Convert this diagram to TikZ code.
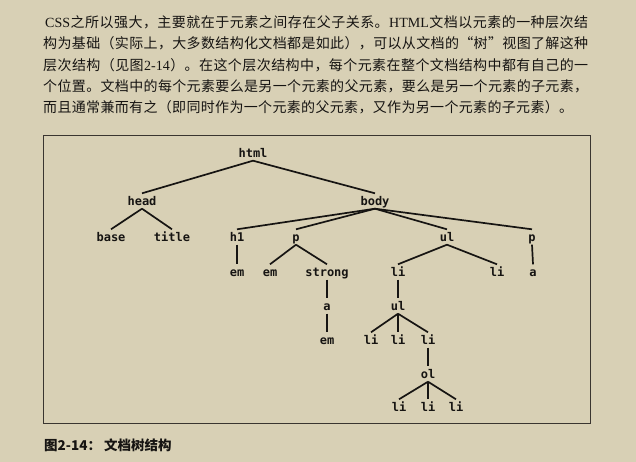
\documentclass[tikz,border=0pt]{standalone}
\usepackage{fontspec}
\setmainfont{Noto Sans CJK SC}
\newfontfamily\cjk{Noto Sans CJK SC}
\newfontfamily\lat{Liberation Serif}
\newfontfamily\tmono{DejaVu Sans Mono}
\definecolor{bg}{RGB}{216,208,181}
\definecolor{ink}{RGB}{22,20,18}
\definecolor{frame}{RGB}{58,53,48}
\def\sprend{\sprend}
\newcommand\spr[1]{#1\sprx}
\newcommand\sprx[1]{\ifx\sprend#1\else\hfil{#1}\expandafter\sprx\fi}
\tikzset{
  tn/.style={font=\tmono\bfseries\fontsize{12}{14}\selectfont, text=ink,
    text height=9pt, text depth=0pt, inner xsep=0pt, inner ysep=3pt},
  edge/.style={line width=1.7pt, draw=ink},
  paraline/.style={anchor=base west, inner sep=0pt, text=ink,
    font=\cjk\fontsize{14}{16}\selectfont},
  capt/.style={anchor=base west, inner sep=0pt, text=ink,
    font=\cjk\bfseries\fontsize{13.5}{16}\selectfont}
}
\begin{document}
\begin{tikzpicture}[x=1pt,y=-1pt]
\useasboundingbox (0,0) rectangle (636,462);
\fill[bg] (0,0) rectangle (636,462);
% paragraph
\node[paraline] (l1) at (45,27.6) {\makebox[543pt][s]{\spr{{\lat CSS}}之所以强大，主要就在于元素之间存在父子关系。{\lat HTML}文档以元素的一种层次结\sprend}};
\node[paraline] (l2) at (43,48.9) {\makebox[545pt][s]{\spr 构为基础（实际上，大多数结构化文档都是如此），可以从文档的“树”视图了解这种\sprend}};
\node[paraline] (l3) at (43,70.2) {\makebox[545pt][s]{\spr 层次结构（见图{\lat 2-14}）。在这个层次结构中，每个元素在整个文档结构中都有自己的一\sprend}};
\node[paraline] (l4) at (43,91.5) {\makebox[545pt][s]{\spr 个位置。文档中的每个元素要么是另一个元素的父元素，要么是另一个元素的子元素，\sprend}};
\node[paraline] (l5) at (43,112.8) {\makebox[530pt][s]{\spr 而且通常兼而有之（即同时作为一个元素的父元素，又作为另一个元素的子元素）。\sprend}};
% frame
\draw[frame, line width=1pt] (43,136) rectangle (590,423);
% caption
\node[capt] (cap) at (44,450) {图2-14：\hspace{3pt}文档树结构};
% tree nodes
\node[tn] (html) at (253,153) {html};
\node[tn] (head) at (142,201) {head};
\node[tn] (base) at (111,237) {base};
\node[tn] (title) at (172,237) {title};
\node[tn] (body) at (375,201) {body};
\node[tn] (h1) at (237,237) {h1};
\node[tn] (h1em) at (237,272) {em};
\node[tn] (p1) at (296,237) {p};
\node[tn] (p1em) at (270,272) {em};
\node[tn] (strong) at (327,272) {strong};
\node[tn] (sa) at (327,306) {a};
\node[tn] (saem) at (327,340) {em};
\node[tn] (ul1) at (447,237) {ul};
\node[tn] (li1) at (398,272) {li};
\node[tn] (li2) at (497,272) {li};
\node[tn] (ul2) at (398,306) {ul};
\node[tn] (li3) at (371,340) {li};
\node[tn] (li4) at (398,340) {li};
\node[tn] (li5) at (428,340) {li};
\node[tn] (ol) at (428,374) {ol};
\node[tn] (li6) at (399,407) {li};
\node[tn] (li7) at (428,407) {li};
\node[tn] (li8) at (456,407) {li};
\node[tn] (p2) at (532,237) {p};
\node[tn] (p2a) at (533,272) {a};
% edges
\draw[edge] (html.south) -- (head.north);
\draw[edge] (html.south) -- (body.north);
\draw[edge] (head.south) -- (base.north);
\draw[edge] (head.south) -- (title.north);
\draw[edge] (body.south) -- (h1.north);
\draw[edge] (body.south) -- (p1.north);
\draw[edge] (body.south) -- (ul1.north);
\draw[edge] (body.south) -- (p2.north);
\draw[edge] (h1.south) -- (h1em.north);
\draw[edge] (p1.south) -- (p1em.north);
\draw[edge] (p1.south) -- (strong.north);
\draw[edge] (strong.south) -- (sa.north);
\draw[edge] (sa.south) -- (saem.north);
\draw[edge] (ul1.south) -- (li1.north);
\draw[edge] (ul1.south) -- (li2.north);
\draw[edge] (li1.south) -- (ul2.north);
\draw[edge] (ul2.south) -- (li3.north);
\draw[edge] (ul2.south) -- (li4.north);
\draw[edge] (ul2.south) -- (li5.north);
\draw[edge] (li5.south) -- (ol.north);
\draw[edge] (ol.south) -- (li6.north);
\draw[edge] (ol.south) -- (li7.north);
\draw[edge] (ol.south) -- (li8.north);
\draw[edge] (p2.south) -- (p2a.north);
\end{tikzpicture}
\end{document}
